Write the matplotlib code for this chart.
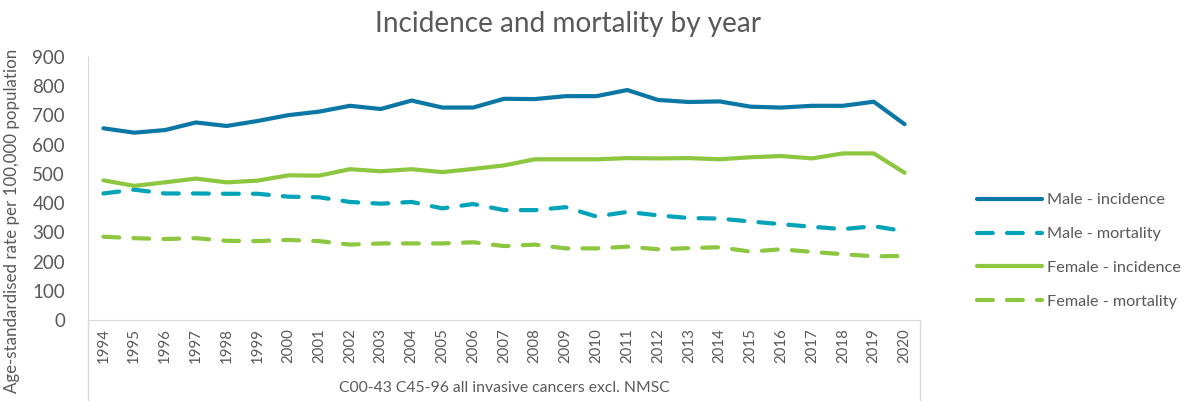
import numpy as np
import matplotlib
matplotlib.use("Agg")
import matplotlib.pyplot as plt

years = list(range(1994, 2021))
male_inc = [656, 641, 650, 676, 664, 681, 701, 713, 733, 722, 751, 727, 727, 757,
            756, 766, 766, 787, 753, 746, 748, 730, 727, 733, 733, 747, 670]
male_mort = [433, 446, 433, 433, 432, 432, 422, 420, 404, 398, 404, 382, 397, 376,
             376, 386, 354, 370, 358, 349, 347, 337, 328, 319, 311, 321, 304]
female_inc = [478, 459, 471, 484, 471, 477, 495, 494, 516, 509, 516, 506, 517, 529,
              550, 550, 550, 554, 553, 554, 550, 557, 561, 553, 570, 570, 504]
female_mort = [285, 280, 277, 280, 271, 270, 274, 270, 258, 262, 262, 262, 266, 253,
               258, 245, 245, 251, 242, 246, 249, 234, 242, 233, 225, 218, 219]

plt.rcParams["font.family"] = ["Lato", "DejaVu Sans"]
txt = "#595959"
blue = "#0B77A5"
teal = "#00A3B8"
green = "#8DC63F"

fig = plt.figure(figsize=(11.83, 4.01), dpi=100)
ax = fig.add_axes([88/1183, 1-320/401, (920-88)/1183, (320-57)/401])

x = np.arange(len(years))
lw = 3.0
dash = (3.8, 3.4)
ax.plot(x, male_inc, color=blue, lw=lw, solid_capstyle="round", label="Male - incidence")
ax.plot(x, male_mort, color=teal, lw=lw, dashes=dash, dash_capstyle="round", label="Male - mortality")
ax.plot(x, female_inc, color=green, lw=lw, solid_capstyle="round", label="Female - incidence")
ax.plot(x, female_mort, color=green, lw=lw, dashes=dash, dash_capstyle="round", label="Female - mortality")

ax.set_xlim(-0.5, len(years) - 0.5)
ax.set_ylim(0, 900)
ax.set_yticks(range(0, 901, 100))
ax.set_xticks(x)
ax.set_xticklabels([str(y) for y in years], rotation=90, fontsize=10.8, color=txt)
ax.tick_params(axis="y", labelsize=13.5, colors=txt, length=0, pad=16.5)
ax.tick_params(axis="x", length=0, pad=6)

for s in ["top", "right"]:
    ax.spines[s].set_visible(False)
ax.spines["left"].set_color("#D9D9D9")
ax.spines["bottom"].set_color("#D9D9D9")

# category axis divider lines
for xa in (0, 1):
    ax.plot([xa, xa], [0, -81/263], transform=ax.transAxes, color="#D9D9D9",
            lw=1, clip_on=False)

ax.text(0.5, -68/263, "C00-43 C45-96 all invasive cancers excl. NMSC",
        transform=ax.transAxes, ha="center", va="center", fontsize=11.3, color=txt)

fig.text(12/1183, 1-221/401, "Age-standardised rate per 100,000 population",
         rotation=90, ha="center", va="center", fontsize=12.2, color=txt)

fig.text(568/1183, 1-24/401, "Incidence and mortality by year",
         ha="center", va="center", fontsize=20.2, color=txt)

leg = ax.legend(loc="center left", bbox_to_anchor=(962/1183, 1-251/401),
                bbox_transform=fig.transFigure, frameon=False, fontsize=11.7,
                handlelength=4.0, labelspacing=1.2, handletextpad=0.35)
for t in leg.get_texts():
    t.set_color(txt)

fig.savefig("out.png", dpi=100)
